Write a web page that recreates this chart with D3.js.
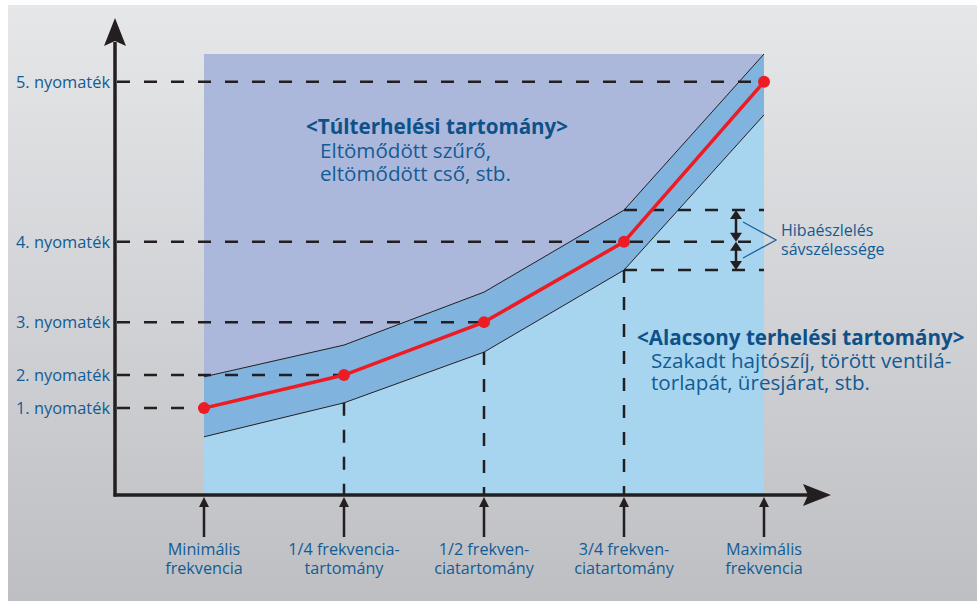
<!DOCTYPE html>
<html>
<head>
<meta charset="utf-8">
<script src="https://cdn.jsdelivr.net/npm/d3@7"></script>
<style>
  body { margin: 0; background: #fff; }
  svg { display: block; }
  text { font-family: "Open Sans", sans-serif; }
</style>
</head>
<body>
<script>
// Frequency categories (x axis)
var freqLabels = [
    ["Minimális", "frekvencia"],
    ["1/4 frekvencia-", "tartomány"],
    ["1/2 frekven-", "ciatartomány"],
    ["3/4 frekven-", "ciatartomány"],
    ["Maximális", "frekvencia"]
];
// Torque at each frequency (relative, 0-100)
var torque = [19.7, 27.2, 39.2, 57.4, 93.7];
var bandUpper = [26.8, 34.0, 46.0, 64.6, 100];
var bandLower = [13.2, 20.9, 32.4, 51.0, 86.2];
var torqueLabels = ["1. nyomaték", "2. nyomaték", "3. nyomaték", "4. nyomaték", "5. nyomaték"];

var W = 977, H = 601;
var txtColor = "#135b94";
var ink = "#231f20";

var svg = d3.select("body").append("svg")
    .attr("width", W)
    .attr("height", H);

// background gradient
var defs = svg.append("defs");
var grad = defs.append("linearGradient")
    .attr("id", "bg")
    .attr("x1", 0).attr("y1", 0).attr("x2", 0).attr("y2", 1);
grad.append("stop").attr("offset", "0%").attr("stop-color", "#e6e7e9");
grad.append("stop").attr("offset", "100%").attr("stop-color", "#bebfc3");

svg.append("rect")
    .attr("x", 8).attr("y", 5)
    .attr("width", W - 8).attr("height", H - 5)
    .style("fill", "url(#bg)");

// scales
var x = d3.scalePoint()
    .domain(d3.range(freqLabels.length))
    .range([204, 764]);
var y = d3.scaleLinear()
    .domain([0, 100])
    .range([495, 54]);

var idx = d3.range(freqLabels.length);

// overload region (whole plot area)
svg.append("rect")
    .attr("x", x(0)).attr("y", y(100))
    .attr("width", x(4) - x(0)).attr("height", y(0) - y(100))
    .style("fill", "#abb8dc");

// detection band
var band = d3.area()
    .x(function(d) { return x(d); })
    .y0(function(d) { return y(bandLower[d]); })
    .y1(function(d) { return y(bandUpper[d]); });
svg.append("path").datum(idx).attr("d", band).style("fill", "#80b4de");

// low load region
var low = d3.area()
    .x(function(d) { return x(d); })
    .y0(y(0))
    .y1(function(d) { return y(bandLower[d]); });
svg.append("path").datum(idx).attr("d", low).style("fill", "#a7d5ef");

// band edges
[bandUpper, bandLower].forEach(function(arr) {
    svg.append("path").datum(idx)
        .attr("d", d3.line().x(function(d) { return x(d); }).y(function(d) { return y(arr[d]); }))
        .style("fill", "none")
        .style("stroke", ink)
        .style("stroke-width", 1);
});

// dashed guide lines
var dash = "13,14";
var guides = svg.append("g")
    .style("stroke", ink)
    .style("stroke-width", 2.5)
    .style("stroke-dasharray", dash);

torque.forEach(function(v, i) {
    var xEnd = (i == 3) ? x(4) : x(i);
    guides.append("line")
        .attr("x1", 117).attr("x2", xEnd)
        .attr("y1", y(v)).attr("y2", y(v));
});
// band width at 3/4 frequency
[bandUpper[3], bandLower[3]].forEach(function(v) {
    guides.append("line")
        .attr("x1", x(3)).attr("x2", x(4))
        .attr("y1", y(v)).attr("y2", y(v));
});
// verticals
[1, 2, 3].forEach(function(i) {
    guides.append("line")
        .attr("x1", x(i)).attr("x2", x(i))
        .attr("y1", y(bandLower[i])).attr("y2", y(0));
});

// red torque line
svg.append("path").datum(idx)
    .attr("d", d3.line().x(function(d) { return x(d); }).y(function(d) { return y(torque[d]); }))
    .style("fill", "none")
    .style("stroke", "#ed1c24")
    .style("stroke-width", 3.5);

svg.selectAll("circle.pt")
    .data(idx)
    .enter()
    .append("circle")
    .attr("class", "pt")
    .attr("cx", function(d) { return x(d); })
    .attr("cy", function(d) { return y(torque[d]); })
    .attr("r", 6)
    .style("fill", "#ed1c24");

// axes
svg.append("line")
    .attr("x1", 115).attr("x2", 115)
    .attr("y1", y(0) + 1.5).attr("y2", 42)
    .style("stroke", ink).style("stroke-width", 3.5);
svg.append("path")
    .attr("d", "M115,18 L104,46 L115,41 L126,46 Z")
    .style("fill", ink);
svg.append("line")
    .attr("x1", 113.5).attr("x2", 810)
    .attr("y1", y(0)).attr("y2", y(0))
    .style("stroke", ink).style("stroke-width", 3.5);
svg.append("path")
    .attr("d", "M831,495 L803,484 L808,495 L803,506 Z")
    .style("fill", ink);

// y labels
svg.selectAll("text.ylab")
    .data(torqueLabels)
    .enter()
    .append("text")
    .attr("class", "ylab")
    .attr("x", 110)
    .attr("y", function(d, i) { return y(torque[i]) + 6; })
    .style("text-anchor", "end")
    .style("font-size", "16.4px")
    .style("fill", txtColor)
    .text(function(d) { return d; });

// frequency markers below axis
idx.forEach(function(i) {
    var cx = x(i);
    svg.append("line")
        .attr("x1", cx).attr("x2", cx)
        .attr("y1", 537).attr("y2", 505)
        .style("stroke", ink).style("stroke-width", 2.5);
    svg.append("path")
        .attr("d", "M" + cx + ",497 L" + (cx - 5) + ",507 L" + (cx + 5) + ",507 Z")
        .style("fill", ink);
    var t = svg.append("text")
        .attr("x", cx)
        .attr("y", 555)
        .style("text-anchor", "middle")
        .style("font-size", "16.2px")
        .style("fill", txtColor);
    freqLabels[i].forEach(function(s, k) {
        t.append("tspan").attr("x", cx).attr("dy", k == 0 ? 0 : 19).text(s);
    });
});

// band width annotation
var ax = x(3) + 0.8 * (x(4) - x(3));
var ya = y(bandUpper[3]), ym = y(torque[3]), yb = y(bandLower[3]);
function dblArrow(y1, y2) {
    svg.append("line")
        .attr("x1", ax).attr("x2", ax)
        .attr("y1", y1 + 6).attr("y2", y2 - 6)
        .style("stroke", ink).style("stroke-width", 2.5);
    svg.append("path")
        .attr("d", "M" + ax + "," + y1 + " L" + (ax - 6) + "," + (y1 + 9) + " L" + (ax + 6) + "," + (y1 + 9) + " Z")
        .style("fill", ink);
    svg.append("path")
        .attr("d", "M" + ax + "," + y2 + " L" + (ax - 6) + "," + (y2 - 9) + " L" + (ax + 6) + "," + (y2 - 9) + " Z")
        .style("fill", ink);
}
dblArrow(ya, ym);
dblArrow(ym, yb);

svg.append("path")
    .attr("d", "M743,222 L776,240 L743,258")
    .style("fill", "none")
    .style("stroke", "#1f62a0")
    .style("stroke-width", 1.3);

var hib = svg.append("text")
    .attr("x", 781).attr("y", 236)
    .style("font-size", "16px")
    .style("fill", txtColor);
hib.append("tspan").attr("x", 781).text("Hibaészlelés");
hib.append("tspan").attr("x", 781).attr("dy", 19).text("sávszélessége");

// region texts
function regionText(x0, y0, title, lines, gap) {
    svg.append("text")
        .attr("x", x0).attr("y", y0)
        .style("font-size", "20.6px")
        .style("font-weight", "bold")
        .style("fill", "#0e5189")
        .text(title);
    lines.forEach(function(s, k) {
        svg.append("text")
            .attr("x", x0 + 14).attr("y", y0 + gap * (k + 1))
            .style("font-size", "20.6px")
            .style("fill", txtColor)
            .text(s);
    });
}
regionText(306, 134, "<Túlterhelési tartomány>", ["Eltömődött szűrő,", "eltömődött cső, stb."], 23.5);
regionText(637, 345, "<Alacsony terhelési tartomány>", ["Szakadt hajtószíj, törött ventilá-", "torlapát, üresjárat, stb."], 22.5);
</script>
</body>
</html>
